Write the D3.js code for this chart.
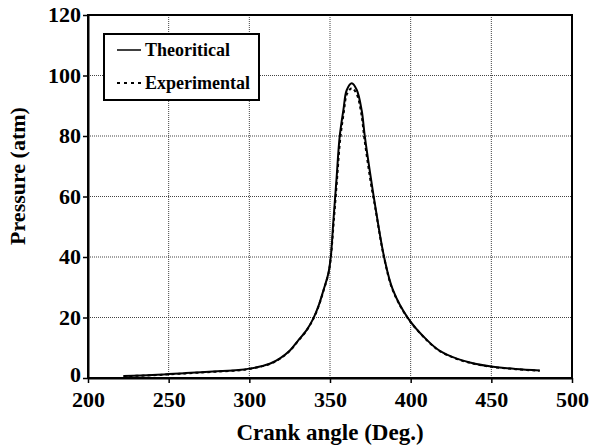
<!DOCTYPE html>
<html><head><meta charset="utf-8">
<script src="https://cdn.jsdelivr.net/npm/d3@7"></script>
<style>body{margin:0;background:#fff}svg{display:block}</style>
</head><body>
<svg id="c" width="592" height="448"></svg>
<script>
const xTicks = [200, 250, 300, 350, 400, 450, 500];
const yTicks = [0, 20, 40, 60, 80, 100, 120];
const seriesNames = ["Theoritical", "Experimental"];
const theoAngle = [222,240,250,260,270,280,290,295,300,306,313,319,325,330,335.6,339.7,343,346,349,350.5,352.1,354,356,358.3,360.4,363.5,366.6,369.6,371.6,375.5,378,383.5,389,398.3,410,418,428.6,440,450,465,480];
const theoP =     [0.7,1.0,1.3,1.6,1.9,2.2,2.5,2.7,3.1,3.7,4.8,6.5,9.0,12.2,15.9,19.7,24.0,29.1,34.6,40.1,52.0,65.5,79.8,88.6,95.2,97.4,95.2,88.6,79.8,65.5,57.0,40.1,29.1,19.8,12.6,9.0,6.4,4.7,3.8,3.0,2.5];
const expAngle = [222,240,250,260,270,280,290,295,300,306,313,319,325,330,335.6,339.7,343,346,349,350.5,352.3,354.2,356.3,358.5,360.6,363.6,366.6,369.4,371.4,375.3,378,383.5,389,398.3,410,418,428.6,440,450,465,480];
const expP =     [0.6,0.9,1.2,1.5,1.8,2.1,2.4,2.6,3.0,3.6,4.7,6.4,8.9,12.1,15.8,19.6,23.8,28.9,34.4,39.8,51.5,64.5,78.8,87.6,94.0,95.8,93.8,87.4,78.8,64.5,56.4,39.8,28.9,19.7,12.5,8.9,6.3,4.6,3.7,2.9,2.4];

const svg = d3.select("#c");
const m = {l:88, r:572, t:15, b:378};
const x = d3.scaleLinear().domain([200,500]).range([m.l, m.r]);
const y = d3.scaleLinear().domain([0,120]).range([m.b, m.t]);
const font = "'Liberation Serif','Times New Roman',serif";

// grid
const g = svg.append("g");
g.selectAll(".gx").data(xTicks.slice(1,-1)).join("line")
  .attr("x1", d=>x(d)).attr("x2", d=>x(d)).attr("y1", m.t).attr("y2", m.b)
  .attr("stroke","#444").attr("stroke-width",1).attr("stroke-dasharray","1,1");
g.selectAll(".gy").data(yTicks.slice(1,-1)).join("line")
  .attr("y1", d=>y(d)).attr("y2", d=>y(d)).attr("x1", m.l).attr("x2", m.r)
  .attr("stroke","#444").attr("stroke-width",1).attr("stroke-dasharray","1,1");

// frame
svg.append("rect").attr("x",m.l).attr("y",m.t).attr("width",m.r-m.l).attr("height",m.b-m.t)
  .attr("fill","none").attr("stroke","#000").attr("stroke-width",2);

// axes
const xAxis = d3.axisBottom(x).tickValues(xTicks).tickSize(5).tickSizeOuter(0);
const yAxis = d3.axisLeft(y).tickValues(yTicks).tickSize(5).tickSizeOuter(0);
const ax = svg.append("g").attr("transform",`translate(0,${m.b})`).call(xAxis);
const ay = svg.append("g").attr("transform",`translate(${m.l},0)`).call(yAxis);
[ax, ay].forEach(a=>{
  a.select(".domain").attr("stroke","#000").attr("stroke-width",2);
  a.selectAll(".tick line").attr("stroke","#000").attr("stroke-width",1.5);
  a.selectAll("text").attr("font-family",font).attr("font-weight","bold").attr("font-size",22).attr("fill","#000");
});
ax.selectAll("text").attr("dy",null).attr("y",29);
ay.selectAll("text").attr("x",-7).attr("dy",d=>d===0?"0.18em":"0.3em");

// lines
const line = d3.line().x(d=>x(d[0])).y(d=>y(d[1])).curve(d3.curveCatmullRom.alpha(0.5));
const theo = theoAngle.map((a,i)=>[a, theoP[i]]);
const expd = expAngle.map((a,i)=>[a, expP[i]]);
svg.append("path").datum(expd).attr("d",line).attr("fill","none").attr("stroke","#000")
  .attr("stroke-width",2).attr("stroke-dasharray","3,3");
svg.append("path").datum(theo).attr("d",line).attr("fill","none").attr("stroke","#000")
  .attr("stroke-width",2);

// titles
svg.append("text").attr("x",330).attr("y",440).attr("text-anchor","middle")
  .attr("font-family",font).attr("font-weight","bold").attr("font-size",23).text("Crank angle (Deg.)");
svg.append("text").attr("transform","translate(25,176) rotate(-90)").attr("text-anchor","middle")
  .attr("font-family",font).attr("font-weight","bold").attr("font-size",22).text("Pressure (atm)");

// legend
const lg = svg.append("g");
lg.append("rect").attr("x",104).attr("y",34).attr("width",155).attr("height",66)
  .attr("fill","#fff").attr("stroke","#000").attr("stroke-width",2);
const ly = [50, 83];
seriesNames.forEach((n,i)=>{
  lg.append("line").attr("x1",117).attr("x2",141).attr("y1",ly[i]).attr("y2",ly[i])
    .attr("stroke","#000").attr("stroke-width",i===0?1.5:2).attr("stroke-dasharray",i===0?null:"3,4");
  lg.append("text").attr("x",145).attr("y",ly[i]+5.5).attr("font-family",font).attr("font-weight","bold")
    .attr("font-size",18).text(n);
});
</script>
</body></html>
